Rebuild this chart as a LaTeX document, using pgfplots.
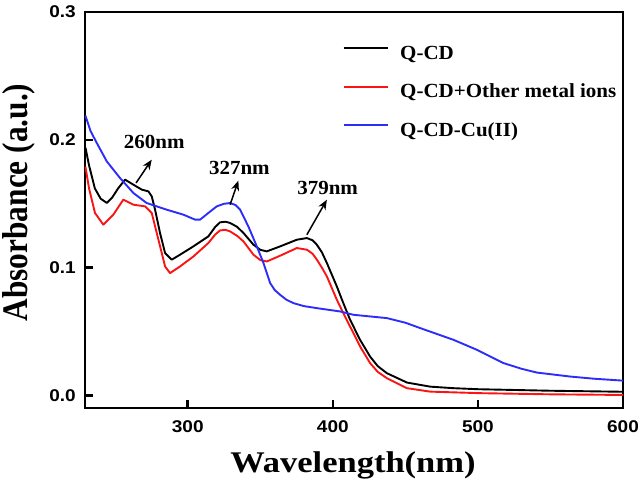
\documentclass[border=0pt]{standalone}
\usepackage{pgfplots}
\pgfplotsset{compat=1.18}
\usetikzlibrary{arrows.meta}
\usepackage{fontspec}
\setmainfont{Liberation Serif}
\newfontfamily\tickfont{Liberation Sans}[FakeStretch=1.12]
\newfontfamily\xlabfont{Liberation Serif}[FakeStretch=1.15]
\newfontfamily\ylabfont{Liberation Serif}[FakeStretch=0.87]
\newfontfamily\legfont{Liberation Serif}[FakeStretch=1.05]
\definecolor{qblue}{RGB}{45,45,250}
\definecolor{qred}{RGB}{250,20,20}
\begin{document}
\begin{tikzpicture}
\begin{axis}[
  scale only axis, width=538pt, height=396pt,
  xmin=229.2, xmax=600, ymin=-0.0097, ymax=0.3,
  xtick={300,400,500,600}, ytick={0,0.1,0.2,0.3},
  tick pos=left, tick align=inside,
  major tick length=8pt,
  every tick/.style={line width=2.6pt, black},
  axis line style={line width=2.6pt},
  /pgf/number format/assume math mode=true,
  tick label style={font=\tickfont\bfseries\fontsize{17}{19}\selectfont},
  yticklabel style={/pgf/number format/fixed, /pgf/number format/fixed zerofill, /pgf/number format/precision=1, inner sep=0pt, xshift=-9pt},
  xticklabel style={inner sep=0pt, yshift=-12pt},
  every axis x label/.style={at={(axis description cs:0.498,-0.1641)}, anchor=base},
  every axis y label/.style={at={(axis description cs:-0.1078,0.519)}, rotate=90, anchor=base},
  xlabel={\xlabfont\bfseries\fontsize{30}{34}\selectfont Wavelength(nm)},
  ylabel={\ylabfont\bfseries\fontsize{36}{40}\selectfont Absorbance (a.u.)},
  legend style={at={(axis description cs:0.479,0.9159)}, anchor=north west,
    draw=none, fill=none, inner sep=0pt, outer sep=0pt, row sep=19.6pt,
    nodes={inner sep=0pt, text height=14pt, text depth=5pt},
    font=\legfont\bfseries\fontsize{20}{24}\selectfont,
    /tikz/every odd column/.append style={column sep=11pt}},
  legend cell align=left,
  legend image code/.code={\draw[#1] (0pt,6.6pt) -- (44.6pt,6.6pt);},
  every axis plot/.append style={line width=1.9pt, line join=round},
  clip=false,
]
\addplot[color=black] coordinates {
(229.5,0.194) (232,0.180) (236,0.162) (240,0.154) (244.2,0.1507) (248,0.155) (252,0.162)
(256.8,0.1689) (262.5,0.1650) (268.3,0.1611) (272.9,0.1597) (275.2,0.1558) (277.5,0.1454)
(280.9,0.1272) (284.4,0.1115) (289.0,0.1063) (294.7,0.1102) (303.9,0.1167) (314.2,0.1245)
(319,0.1320) (322.3,0.1355) (326,0.1360) (329.2,0.1350) (334,0.1320) (338.4,0.1272) (345.3,0.1180)
(350,0.1140) (354.5,0.1128) (363.7,0.1167) (375.2,0.1219) (382.1,0.1232) (386,0.1215)
(389.0,0.1180) (392.5,0.1120) (395.9,0.1037) (402.8,0.0853) (407,0.0730)
(411.9,0.0593) (418.8,0.0436) (425.7,0.0305) (431,0.0230) (437.3,0.0175) (451.1,0.0102) (467.1,0.0070)
(483.2,0.0058) (500,0.0050) (550,0.0038) (600,0.0030)};
\addlegendentry{Q-CD}
\addplot[color=qred] coordinates {
(229.5,0.179) (232,0.162) (236.1,0.1428) (241.8,0.1337) (248.7,0.1415) (255.6,0.1532)
(262.5,0.1493) (270.6,0.1480) (275.2,0.1428) (279.8,0.1219) (284.4,0.1010) (287.8,0.0958)
(294.7,0.1010) (303.9,0.1088) (314.2,0.1193) (319,0.1260) (322.3,0.1292) (326,0.1296) (329.2,0.1284)
(334,0.1250) (338.4,0.1206) (345.3,0.1102) (350,0.1060) (354.5,0.1049) (363.7,0.1094) (375.2,0.1154)
(382.1,0.1141) (386,0.1110) (389.0,0.1063) (392.5,0.1000)
(395.9,0.0932) (402.8,0.0749) (407,0.0650) (411.9,0.0540) (418.8,0.0384) (425.7,0.0254)
(431,0.0185) (437.3,0.0136) (451.1,0.0058) (467.1,0.0031) (501.6,0.0019) (550,0.0010) (600,0.0005)};
\addlegendentry{Q-CD+Other metal ions}
\addplot[color=qblue] coordinates {
(229.5,0.219) (233,0.207) (237.3,0.1976) (244.2,0.1832) (253.3,0.1702) (262.5,0.1585)
(271.7,0.1506) (285.5,0.1454) (297.0,0.1415) (305.1,0.1376) (308.5,0.1376) (314.2,0.1428)
(320.0,0.1480) (325,0.1500) (329.2,0.1506) (333,0.1490) (336.1,0.1454) (341.8,0.1323) (347.6,0.1167) (352.2,0.1037)
(356.8,0.0880) (360,0.0825) (363.7,0.0788) (368,0.0750) (372.9,0.0723) (380,0.0700) (389.0,0.0684) (405.0,0.0658) (414.2,0.0632)
(437.3,0.0606) (450,0.0570) (460.2,0.0528) (483.2,0.0436) (499.3,0.0358) (517.7,0.0254) (530,0.0210) (540.7,0.0180)
(563.6,0.0149) (580,0.0132) (600,0.0117)};
\addlegendentry{Q-CD-Cu(II)}
\begin{scope}[font=\legfont\bfseries\fontsize{20}{24}\selectfont]
\node[anchor=base] at (axis cs:276.9,0.1929) {260nm};
\node[anchor=base] at (axis cs:335.6,0.1728) {327nm};
\node[anchor=base] at (axis cs:396.4,0.1572) {379nm};
\end{scope}
\draw[-{Stealth[length=10pt,width=8pt]}, line width=1.5pt] (axis cs:264.4,0.1663) -- (axis cs:275.2,0.1845);
\draw[-{Stealth[length=10pt,width=8pt]}, line width=1.5pt] (axis cs:329.2,0.1493) -- (axis cs:334.9,0.1681);
\draw[-{Stealth[length=10pt,width=8pt]}, line width=1.5pt] (axis cs:382.1,0.1258) -- (axis cs:395.9,0.1532);
\end{axis}
\pgfresetboundingbox
\path ([shift={(-85pt,-76pt)}]current axis.south west) rectangle ([shift={(21pt,12pt)}]current axis.north east);
\end{tikzpicture}
\end{document}
